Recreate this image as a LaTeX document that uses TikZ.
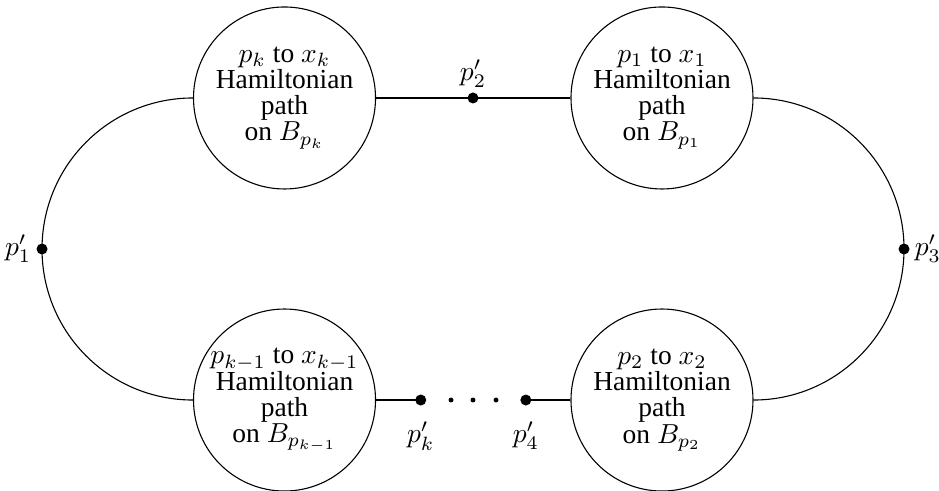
\documentclass[tikz,border=0pt]{standalone}
\usepackage{fontspec}
\setmainfont{Liberation Serif}
\begin{document}
\begin{tikzpicture}[>=latex,
    blk/.style={draw,circle,minimum size=2.326cm,inner sep=0pt,align=center,
      font=\rmfamily\fontsize{10}{9.5}\selectfont},
    bigdot/.style={circle,fill,inner sep=0pt,minimum size=4pt},
    smalldot/.style={circle,fill,inner sep=0pt,minimum size=1.8pt},
    every label/.style={inner sep=1.5pt}]
    \useasboundingbox (0,0) rectangle (12.0,6.262);
    % the four blocks
    \node[blk] (bk) at (3.636,5.010) {$p_k$ to $x_k$\\Hamiltonian\\path\\on $B_{p_k}$};
    \node[blk] (bone) at (8.460,5.010) {$p_1$ to $x_1$\\Hamiltonian\\path\\on $B_{p_1}$};
    \node[blk] (btwo) at (8.460,1.150) {$p_2$ to $x_2$\\Hamiltonian\\path\\on $B_{p_2}$};
    \node[blk] (bkm) at (3.636,1.150) {$p_{k-1}$ to $x_{k-1}$\\Hamiltonian\\path\\on $B_{p_{k-1}}$};
    % connecting points
    \node[bigdot,label=left:{$p'_1$}] (q1) at (0.537,3.080) {};
    \node[bigdot,label=above:{$p'_2$}] (q2) at (6.045,5.010) {};
    \node[bigdot,label=right:{$p'_3$}] (q3) at (11.553,3.080) {};
    \node[bigdot,label={[label distance=4pt]below:{$p'_4$}}] (q4) at (6.720,1.150) {};
    \node[bigdot,label={[label distance=4pt]below:{$p'_k$}}] (qk) at (5.377,1.150) {};
    \node[smalldot] (d1) at (5.764,1.150) {};
    \node[smalldot] (d2) at (6.045,1.150) {};
    \node[smalldot] (d3) at (6.339,1.150) {};
    % the cycle
    \draw (bk.west) to[out=180,in=90] (q1.center);
    \draw (q1.center) to[out=-90,in=180] (bkm.west);
    \draw (bk.east) -- (q2.center) -- (bone.west);
    \draw (bone.east) to[out=0,in=90] (q3.center);
    \draw (q3.center) to[out=-90,in=0] (btwo.east);
    \draw (btwo.west) -- (q4.center);
    \draw (bkm.east) -- (qk.center);
\end{tikzpicture}
\end{document}
